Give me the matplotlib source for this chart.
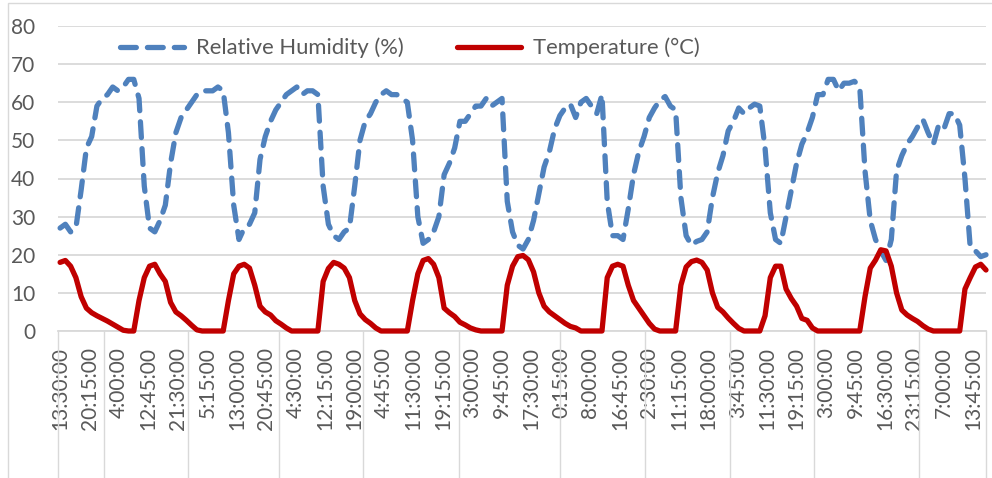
import numpy as np
import matplotlib
matplotlib.use("Agg")
import matplotlib.pyplot as plt
from matplotlib.patches import Rectangle

# ---------------- data ----------------
tick_labels = ["13:30:00", "20:15:00", "4:00:00", "12:45:00", "21:30:00", "5:15:00",
               "13:00:00", "20:45:00", "4:30:00", "12:15:00", "19:00:00", "4:45:00",
               "11:30:00", "19:15:00", "3:00:00", "9:45:00", "17:30:00", "0:15:00",
               "8:00:00", "16:45:00", "2:30:00", "11:15:00", "18:00:00", "3:45:00",
               "11:30:00", "19:15:00", "3:00:00", "9:45:00", "16:30:00", "23:15:00",
               "7:00:00", "13:45:00"]

humidity = [27, 28, 26, 27, 37, 48, 51, 59, 61, 62, 64, 63, 64, 66, 66, 61, 38, 27, 26, 29,
            33, 44, 52, 56, 58, 60, 62, 63, 63, 63, 64, 63, 52, 33, 24, 27,
            28, 31, 45, 51, 55, 58, 60, 62, 63, 64, 62, 63, 63, 62, 38, 28, 25, 24, 26, 27,
            38, 50, 55, 57, 60, 62, 63, 62, 62, 61, 60, 50, 30, 23, 24,
            26, 30, 41, 44, 48, 55, 55, 57, 59, 59, 61, 59, 60, 61, 34, 26, 22.5, 21.5, 24, 29,
            36, 43, 47, 53, 56.5, 58.5, 59.5, 56, 60, 61, 59, 57, 62, 34, 25,
            25, 24, 32, 41, 47, 51, 56, 58.5, 60.5, 61.5, 59, 58, 35, 25, 22.5, 23.5, 24, 26,
            35, 41.5, 46, 52.5, 55, 58.5, 57, 58.5, 59.5, 59, 48, 31, 24, 23, 30, 37, 44,
            49, 52, 56, 62, 62, 66, 66, 63, 65, 65, 65.5, 64, 42, 29, 24, 21, 18.5, 24,
            42, 46, 49, 51, 53.5, 55.5, 52, 49, 54, 53, 57, 57, 54, 40, 22, 21, 19.5, 20]

temperature = [18, 18.5, 17, 14, 9, 6, 4.8, 4, 3.3, 2.6, 1.8, 1, 0.2, 0, 0, 8, 14, 17, 17.5, 15,
               13, 7.5, 5, 4, 2.8, 1.5, 0.3, 0, 0, 0, 0, 0, 8, 15, 17, 17.5,
               16.5, 12, 6.5, 5, 4.2, 2.7, 1.8, 0.8, 0, 0, 0, 0, 0, 0, 13, 16.4, 18, 17.5, 16.5, 14,
               8, 4.5, 3, 2, 0.8, 0, 0, 0, 0, 0, 0, 8, 15, 18.5, 19,
               17.5, 14, 6, 4.8, 3.8, 2.3, 1.6, 0.8, 0.3, 0, 0, 0, 0, 0, 12, 17, 19.5, 19.8, 18.7, 15.5,
               10, 6.5, 5, 4, 3, 2, 1.2, 0.8, 0, 0, 0, 0, 0, 14, 17,
               17.5, 17, 12, 8, 6, 4, 2, 0.5, 0, 0, 0, 0, 12, 16.8, 18.2, 18.6, 18, 16,
               10, 6.2, 5, 3.4, 2, 0.7, 0, 0, 0, 0, 4, 14, 17, 17, 11, 8.5, 6.5,
               3.3, 2.8, 0.8, 0, 0, 0, 0, 0, 0, 0, 0, 0, 9, 16.5, 18.6, 21.3, 21, 17,
               10, 5.5, 4.2, 3.3, 2.5, 1.4, 0.5, 0, 0, 0, 0, 0, 0, 11, 14, 16.8, 17.5, 16]

# category index where each new day begins (outer axis level separators)
day_starts = [42, 122, 208, 288, 379, 475, 556, 637, 717, 816]

label_interval = 28      # categories between shown tick labels
sample_step = 5          # categories between stored samples

# ---------------- style ----------------
GRID = "#D9D9D9"
TEXT = "#595959"
BLUE = "#4F81BD"
RED = "#C00000"
FONT = ["Lato", "DejaVu Sans"]
plt.rcParams["font.family"] = FONT

W, H = 992, 478
fig = plt.figure(figsize=(W / 100, H / 100), dpi=100)
ax = fig.add_axes([58 / W, 1 - 331 / H, 928 / W, 305 / H])

# chart border
fig.add_artist(Rectangle((8 / W, -0.1), 1.2, 0.1 + 1 - 3 / H, transform=fig.transFigure,
                         fill=False, edgecolor=GRID, linewidth=1.0))

x = np.arange(len(humidity)) * sample_step
ax.plot(x, humidity, color=BLUE, linewidth=3.8, dashes=(3, 2.1),
        dash_capstyle="round", solid_capstyle="round", label="Relative Humidity (%)",
        clip_on=False, zorder=3)
ax.plot(np.arange(len(temperature)) * sample_step, temperature, color=RED, linewidth=3.8,
        solid_joinstyle="round", solid_capstyle="round", label="Temperature (°C)",
        clip_on=False, zorder=4)

xmin, xmax = -2, 880
ax.set_xlim(xmin, xmax)
ax.set_ylim(0, 80)
ax.set_yticks(np.arange(0, 81, 10))
ax.set_xticks(np.arange(len(tick_labels)) * label_interval)
ax.set_xticklabels(tick_labels, rotation=90)

ax.grid(axis="y", color=GRID, linewidth=1.3)
ax.set_axisbelow(True)
for s in ["left", "right", "top"]:
    ax.spines[s].set_visible(False)
ax.spines["bottom"].set_color(GRID)
ax.spines["bottom"].set_linewidth(1.3)

ax.tick_params(axis="x", length=0, pad=11.5, labelcolor=TEXT, labelsize=15)
ax.tick_params(axis="y", length=0, pad=16.5, labelcolor=TEXT, labelsize=15)

# day separators below the axis
trans = ax.get_xaxis_transform()
for d in [xmin] + day_starts + [xmax]:
    ax.plot([d, d], [0, -0.52], color=GRID, linewidth=1.0, transform=trans,
            clip_on=False, zorder=1)

leg = ax.legend(loc="center left", bbox_to_anchor=(109 / W, 1 - 48 / H),
                bbox_transform=fig.transFigure, ncol=2, frameon=False, borderpad=0,
                handlelength=2.9, handletextpad=0.55, columnspacing=2.45, fontsize=15.8)
for t in leg.get_texts():
    t.set_color(TEXT)

fig.savefig("out.png", dpi=100, facecolor="white")
